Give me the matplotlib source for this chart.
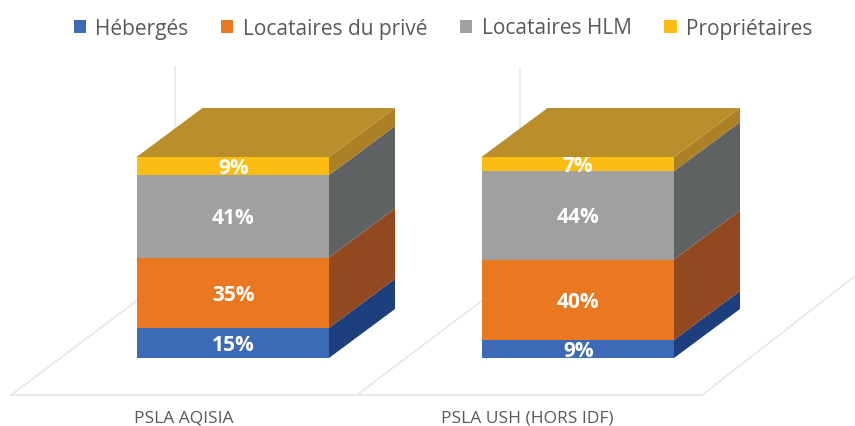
import matplotlib
matplotlib.use('Agg')
import matplotlib.pyplot as plt
from matplotlib.patches import Polygon, Patch

plt.rcParams['font.family'] = ['Open Sans', 'DejaVu Sans']

categories = ['PSLA AQISIA', 'PSLA USH (HORS IDF)']
series = ['Hébergés', 'Locataires du privé', 'Locataires HLM', 'Propriétaires']
hebergés = [15, 9]
locataires_prive = [35, 40]
locataires_hlm = [41, 44]
proprietaires = [9, 7]
valeurs = [hebergés, locataires_prive, locataires_hlm, proprietaires]

couleurs = ['#3D6AB6', '#EA7820', '#A0A0A0', '#FDBC11']
cotes = ['#1E3F7E', '#92491F', '#5F6262', '#AC8024']
dessus = '#BA8E2A'
grille = '#E4E4E4'
texte = '#595959'

# la figure fait 855x427, 100% = 201 px, le zero est a 358 px du haut
PX = 2.01
Y0 = 359


def y_px(p):
    return (Y0 - p) / PX


gauche = [136.5, 481.5]
largeur = 192.5
dx = 66
dy = 49 / PX

fig = plt.figure(figsize=(8.55, 4.27), dpi=100)
ax = fig.add_axes([0, 0, 1, 1])
ax.set_xlim(0, 855)
ax.set_ylim(y_px(427), y_px(0))
ax.axis('off')

# sol et murs
ax.plot([11, 702], [y_px(396), y_px(396)], color=grille, lw=1.2, zorder=1)
ax.plot([11, 175, 175], [y_px(396), y_px(273), y_px(68)], color=grille, lw=1, zorder=1)
ax.plot([357, 520, 520], [y_px(396), y_px(273), y_px(68)], color=grille, lw=1, zorder=1)
ax.plot([702, 855], [y_px(396), y_px(277)], color=grille, lw=1, zorder=1)

for i, x in enumerate(gauche):
    bas = 0
    for j, vals in enumerate(valeurs):
        v = vals[i]
        ax.bar(x, v, largeur, bottom=bas, align='edge', color=couleurs[j], zorder=3)
        d = x + largeur
        ax.add_patch(Polygon([(d, bas), (d + dx, bas + dy), (d + dx, bas + v + dy), (d, bas + v)],
                             closed=True, fc=cotes[j], ec='none', zorder=2))
        ax.text(x + largeur / 2 + 0.5, bas + v / 2 - 0.8, '%d%%' % v, color='white', fontsize=15,
                fontweight='bold', ha='center', va='center', zorder=4)
        bas += v
    ax.add_patch(Polygon([(x, bas), (x + dx, bas + dy), (x + largeur + dx, bas + dy), (x + largeur, bas)],
                         closed=True, fc=dessus, ec='none', zorder=2))

ax.text(183.5, y_px(419), categories[0], color=texte, fontsize=12.5, ha='center', va='center')
ax.text(527, y_px(419), categories[1], color=texte, fontsize=12.5, ha='center', va='center')

handles = [Patch(fc=c, ec='none') for c in couleurs]
ax.legend(handles, series, ncol=4, frameon=False, loc='center', bbox_to_anchor=(443 / 855, 1 - 29 / 427),
          fontsize=15, labelcolor=texte, handlelength=0.58, handleheight=0.58,
          handletextpad=0.45, columnspacing=1.58, borderpad=0)

fig.savefig('out.png', dpi=100)
